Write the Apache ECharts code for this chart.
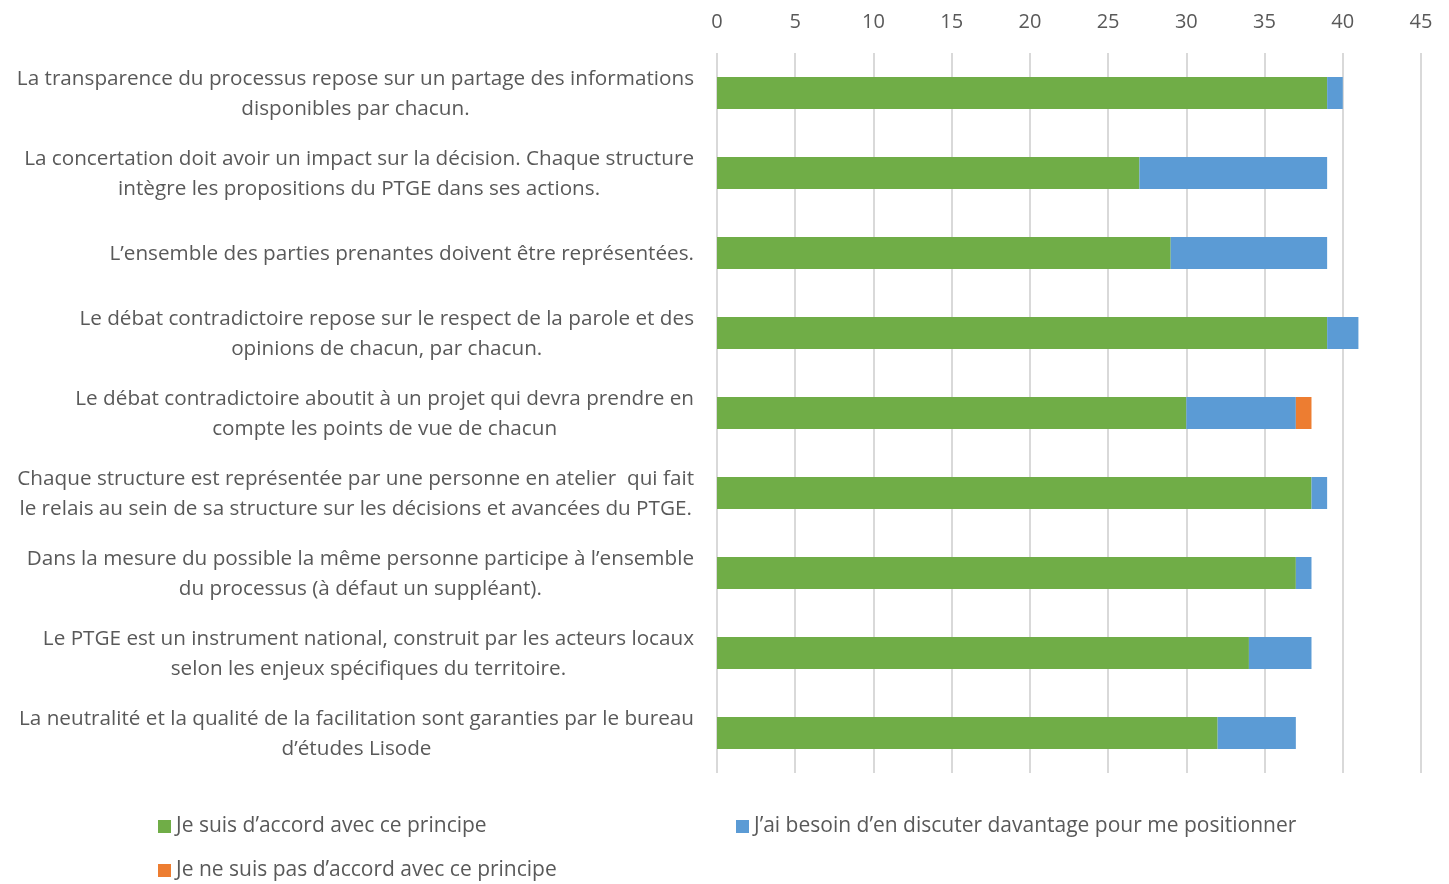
<!DOCTYPE html>
<html>
<head>
<meta charset="utf-8">
<script src="https://cdn.jsdelivr.net/npm/echarts@6/dist/echarts.min.js"></script>
<style>
  html, body { margin: 0; padding: 0; background: #fff; }
  #chart { width: 1449px; height: 884px; }
</style>
</head>
<body>
<div id="chart"></div>
<script>
// principes (du haut vers le bas), retours à la ligne comme dans l'original
const categories = [
  'La transparence du processus repose sur un partage des informations\ndisponibles par chacun.',
  'La concertation doit avoir un impact sur la décision. Chaque structure\nintègre les propositions du PTGE dans ses actions.',
  'L’ensemble des parties prenantes doivent être représentées.',
  'Le débat contradictoire repose sur le respect de la parole et des\nopinions de chacun, par chacun.',
  'Le débat contradictoire aboutit à un projet qui devra prendre en\ncompte les points de vue de chacun',
  'Chaque structure est représentée par une personne en atelier  qui fait\nle relais au sein de sa structure sur les décisions et avancées du PTGE.',
  'Dans la mesure du possible la même personne participe à l’ensemble\ndu processus (à défaut un suppléant).',
  'Le PTGE est un instrument national, construit par les acteurs locaux\nselon les enjeux spécifiques du territoire.',
  'La neutralité et la qualité de la facilitation sont garanties par le bureau\nd’études Lisode'
];

const accord    = [39, 27, 29, 39, 30, 38, 37, 34, 32];
const discuter  = [1, 12, 10, 2, 7, 1, 1, 4, 5];
const desaccord = [0, 0, 0, 0, 1, 0, 0, 0, 0];

const seriesNames = [
  'Je suis d’accord avec ce principe',
  'J’ai besoin d’en discuter davantage pour me positionner',
  'Je ne suis pas d’accord avec ce principe'
];
const colors = ['#70AD47', '#5B9BD5', '#ED7D31'];

const xTicks = { min: 0, max: 45, interval: 5 };

const font = 'Open Sans';
const textColor = '#595959';

const chart = echarts.init(document.getElementById('chart'));

function legendAt(name, left, top) {
  return {
    data: [name],
    left: left,
    top: top,
    itemWidth: 13,
    itemHeight: 13,
    itemGap: 4,
    icon: 'rect',
    textStyle: { fontFamily: font, fontSize: 21, color: textColor, padding: [0, 0, 0, 0] }
  };
}

const option = {
  animation: false,
  textStyle: { fontFamily: font },
  grid: { left: 717, right: 28, top: 53, bottom: 111, containLabel: false },
  legend: [
    legendAt(seriesNames[0], 153, 811),
    legendAt(seriesNames[1], 731, 811),
    legendAt(seriesNames[2], 153, 855)
  ],
  xAxis: {
    type: 'value',
    position: 'top',
    min: xTicks.min,
    max: xTicks.max,
    interval: xTicks.interval,
    axisLine: { show: false },
    axisTick: { show: false },
    axisLabel: { fontFamily: font, fontSize: 20, color: textColor, margin: 21 },
    splitLine: { lineStyle: { color: '#d9d9d9', width: 2 } }
  },
  yAxis: {
    type: 'category',
    inverse: true,
    data: categories,
    axisLine: { show: false },
    axisTick: { show: false },
    axisLabel: {
      margin: 23,
      align: 'right',
      fontFamily: font,
      fontSize: 20.7,
      color: textColor,
      lineHeight: 30,
      padding: [3, 0, 0, 0],
      formatter: function (v) {
        return v.split('\n').map(function (l) { return '{c|' + l + '}'; }).join('\n');
      },
      rich: {
        c: { align: 'center', fontFamily: font, fontSize: 20.7, color: textColor, lineHeight: 30 }
      }
    }
  },
  series: [accord, discuter, desaccord].map(function (d, i) {
    return {
      name: seriesNames[i],
      type: 'bar',
      stack: 'total',
      barWidth: 32,
      data: d,
      itemStyle: { color: colors[i] }
    };
  })
};

chart.setOption(option);
</script>
</body>
</html>
